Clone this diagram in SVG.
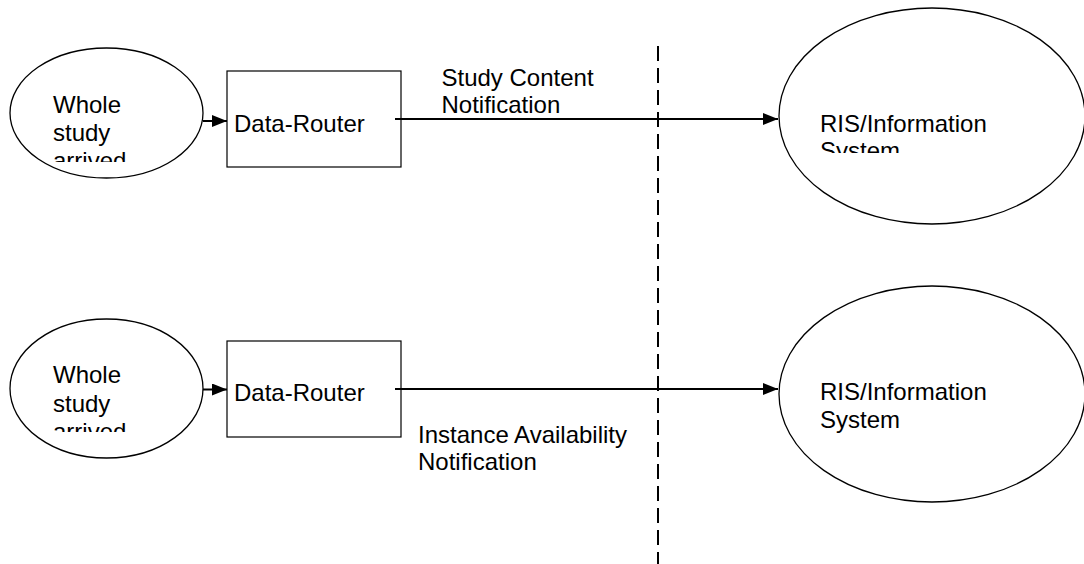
<svg xmlns="http://www.w3.org/2000/svg" width="1084" height="564" viewBox="0 0 1084 564">
<style>
.shape{fill:#fff;stroke:#000;stroke-width:1.3}
.box{fill:#fff;stroke:#000;stroke-width:1.2}
.lbl{font-family:"Liberation Sans",Arial,sans-serif;font-size:24px;fill:#000}
.conn{stroke:#000;stroke-width:2;fill:none}
.dash{stroke:#000;stroke-width:2;fill:none;stroke-dasharray:15 7}
</style>
<defs>
<marker id="ah" markerWidth="15" markerHeight="12" refX="15" refY="6" orient="auto" markerUnits="userSpaceOnUse">
<path d="M0,0 L15,6 L0,12 Z" fill="#000"/>
</marker>
<clipPath id="c1"><rect x="0" y="80" width="220" height="82"/></clipPath>
<clipPath id="c2"><rect x="0" y="350" width="220" height="82"/></clipPath>
<clipPath id="c3"><rect x="790" y="100" width="294" height="53"/></clipPath>
</defs>
<rect width="1084" height="564" fill="#fff"/>
<g id="whole1">
<ellipse class="shape" cx="106.5" cy="113" rx="96.5" ry="65"/>
<text class="lbl" clip-path="url(#c1)"><tspan x="53" y="113">Whole</tspan><tspan x="53" y="141">study</tspan><tspan x="53" y="169">arrived</tspan></text>
</g>
<g id="router1">
<rect class="box" x="227" y="71" width="174" height="96"/>
<text class="lbl" x="234" y="131.5">Data-Router</text>
</g>
<g id="ris1">
<ellipse class="shape" cx="932" cy="116" rx="153" ry="108"/>
<text class="lbl" clip-path="url(#c3)"><tspan x="820" y="131.5">RIS/Information</tspan><tspan x="820" y="159">System</tspan></text>
</g>
<g id="whole2">
<ellipse class="shape" cx="106.5" cy="388.5" rx="96.5" ry="69.5"/>
<text class="lbl" clip-path="url(#c2)"><tspan x="53" y="383.3">Whole</tspan><tspan x="53" y="411.5">study</tspan><tspan x="53" y="440">arrived</tspan></text>
</g>
<g id="router2">
<rect class="box" x="227" y="341" width="174" height="96"/>
<text class="lbl" x="234" y="401">Data-Router</text>
</g>
<g id="ris2">
<ellipse class="shape" cx="932" cy="394" rx="153" ry="108"/>
<text class="lbl"><tspan x="820" y="400">RIS/Information</tspan><tspan x="820" y="427.5">System</tspan></text>
</g>
<g id="connectors">
<line class="dash" x1="658" y1="46" x2="658" y2="564"/>
<line class="conn" x1="203" y1="121" x2="227" y2="121" marker-end="url(#ah)"/>
<line class="conn" x1="395" y1="119" x2="778" y2="119" marker-end="url(#ah)"/>
<line class="conn" x1="203" y1="389.5" x2="227" y2="389.5" marker-end="url(#ah)"/>
<line class="conn" x1="395" y1="389" x2="778" y2="389" marker-end="url(#ah)"/>
<text class="lbl"><tspan x="441.5" y="85.7">Study Content</tspan><tspan x="441.5" y="113.3">Notification</tspan></text>
<text class="lbl"><tspan x="418" y="442.7">Instance Availability</tspan><tspan x="418" y="470">Notification</tspan></text>
</g>
</svg>
